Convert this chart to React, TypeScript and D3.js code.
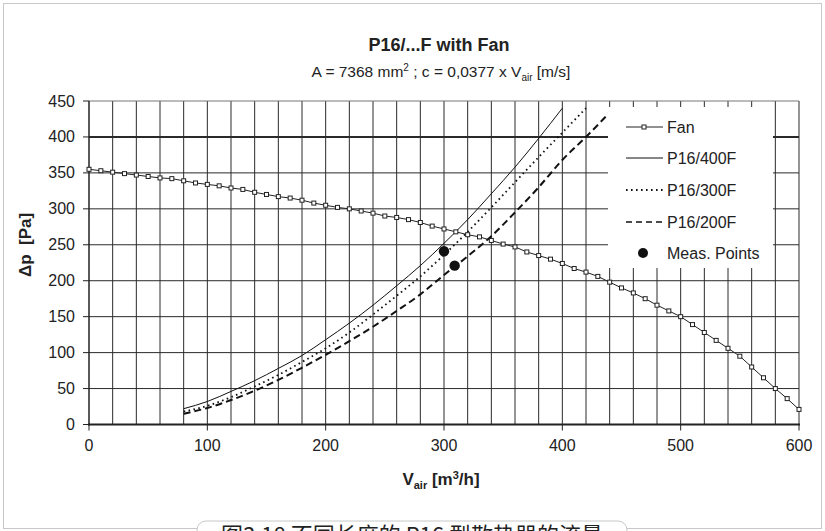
import React from "react";
import * as d3 from "d3";

const fanFlow = d3.range(0, 601, 10);
const fanDp = [355, 353, 351, 349, 347, 345, 343, 342, 339, 336, 334, 332, 329, 327, 323, 320, 317, 315, 312, 308, 305, 302, 300, 297, 294, 290, 288, 285, 281, 276, 272, 268, 264, 261, 256, 251, 247, 240, 235, 230, 224, 217, 212, 206, 198, 190, 183, 175, 166, 158, 150, 139, 128, 117, 106, 95, 80, 65, 50, 36, 21];

const p400Flow = [80, 100, 120, 140, 160, 180, 200, 220, 240, 260, 280, 300, 320, 340, 360, 380, 400];
const p400Dp = [22, 32, 46, 61, 78, 96, 118, 141, 166, 193, 221, 252, 285, 321, 358, 398, 440];

const p300Flow = [80, 100, 120, 140, 160, 180, 200, 220, 240, 260, 280, 300, 320, 340, 360, 380, 400, 420];
const p300Dp = [18, 26, 38, 53, 69, 87, 106, 128, 153, 179, 206, 236, 268, 302, 337, 372, 406, 440];

const p200Flow = [80, 100, 120, 140, 160, 180, 200, 220, 240, 260, 280, 300, 320, 340, 360, 380, 400, 420, 440];
const p200Dp = [15, 23, 34, 47, 62, 79, 97, 116, 136, 158, 181, 208, 234, 262, 295, 330, 368, 400, 434];

const measFlow = [300, 309];
const measDp = [241, 221];

const xTicks = [0, 100, 200, 300, 400, 500, 600];
const yTicks = [0, 50, 100, 150, 200, 250, 300, 350, 400, 450];

const legendLabels = ["Fan", "P16/400F", "P16/300F", "P16/200F", "Meas. Points"];

const W = 825;
const H = 531;
const FONT = "Arial, 'Liberation Sans', Helvetica, sans-serif";

export default function App() {
  const x = d3.scaleLinear().domain([0, 600]).range([89, 799]);
  const y = d3.scaleLinear().domain([0, 450]).range([424.5, 101]);

  const fanPts: [number, number][] = fanFlow.map((v, i) => [v, fanDp[i]]);
  const lineStraight = d3.line<[number, number]>().x((d) => x(d[0])).y((d) => y(d[1]));
  const lineSmooth = d3
    .line<[number, number]>()
    .x((d) => x(d[0]))
    .y((d) => y(d[1]))
    .curve(d3.curveMonotoneX);

  const s400 = p400Flow.map((v, i) => [v, p400Dp[i]] as [number, number]);
  const s300 = p300Flow.map((v, i) => [v, p300Dp[i]] as [number, number]);
  const s200 = p200Flow.map((v, i) => [v, p200Dp[i]] as [number, number]);

  const vGrid = d3.range(20, 601, 20);
  const hGrid = yTicks.filter((t) => t > 0);

  const legX0 = 608;
  const legY0 = 107;
  const legRowY = [127, 158, 190, 222, 253];

  return (
    <div style={{ position: "fixed", left: 0, top: 0 }}>
      <svg width={W} height={H} viewBox={`0 0 ${W} ${H}`} style={{ display: "block", background: "#fff" }}>
        <rect x={0} y={0} width={W} height={H} fill="#fff" />
        {/* outer chart border */}
        <rect x={3.5} y={3.5} width={818} height={525} fill="none" stroke="#c8c8c8" strokeWidth={1} />

        {/* title */}
        <text x={439} y={51} textAnchor="middle" fontFamily={FONT} fontWeight="bold" fontSize={18} fill="#222">
          P16/...F with Fan
        </text>
        <text x={441} y={77} textAnchor="middle" fontFamily={FONT} fontSize={15.5} fill="#222">
          <tspan>A = 7368 mm</tspan>
          <tspan dy={-6} fontSize={10}>2</tspan>
          <tspan dy={6}> ; c = 0,0377 x V</tspan>
          <tspan dy={4} fontSize={10}>air</tspan>
          <tspan dy={-4}> [m/s]</tspan>
        </text>

        {/* grid */}
        {vGrid.map((v) => (
          <line key={"v" + v} x1={x(v)} x2={x(v)} y1={y(450)} y2={y(0)} stroke="#2a2a2a" strokeWidth={1} />
        ))}
        {hGrid.map((t) => (
          <line
            key={"h" + t}
            x1={x(0)}
            x2={x(600)}
            y1={y(t)}
            y2={y(t)}
            stroke={t === 450 ? "#777" : "#2a2a2a"}
            strokeWidth={t === 400 ? 2 : 1}
          />
        ))}

        {/* axes */}
        <line x1={x(0)} x2={x(0)} y1={y(450)} y2={y(0) + 1} stroke="#222" strokeWidth={1.5} />
        <line x1={x(0) - 1} x2={x(600) + 1} y1={y(0)} y2={y(0)} stroke="#222" strokeWidth={2} />
        {yTicks.map((t) => (
          <g key={"yt" + t}>
            <line x1={x(0) - 6} x2={x(0)} y1={y(t)} y2={y(t)} stroke="#222" strokeWidth={1} />
            <text x={75} y={y(t) + 5.5} textAnchor="end" fontFamily={FONT} fontSize={16} fill="#222">
              {t}
            </text>
          </g>
        ))}
        {xTicks.map((t) => (
          <g key={"xt" + t}>
            <line x1={x(t)} x2={x(t)} y1={y(0)} y2={y(0) + 6} stroke="#222" strokeWidth={1} />
            <text x={x(t)} y={451} textAnchor="middle" fontFamily={FONT} fontSize={16} fill="#222">
              {t}
            </text>
          </g>
        ))}

        {/* axis titles */}
        <text
          transform={`translate(31,245) rotate(-90)`}
          textAnchor="middle"
          fontFamily={FONT}
          fontWeight="bold"
          fontSize={17}
          fill="#222"
          style={{ whiteSpace: "pre" }}
        >
          {"Δp  [Pa]"}
        </text>
        <text x={441} y={485} textAnchor="middle" fontFamily={FONT} fontWeight="bold" fontSize={17} fill="#222">
          <tspan>V</tspan>
          <tspan dy={4} fontSize={11}>air</tspan>
          <tspan dy={-4}> [m</tspan>
          <tspan dy={-6} fontSize={11}>3</tspan>
          <tspan dy={6}>/h]</tspan>
        </text>

        {/* series */}
        <path d={lineSmooth(s400) || ""} fill="none" stroke="#111" strokeWidth={1} />
        <path d={lineSmooth(s300) || ""} fill="none" stroke="#111" strokeWidth={1.8} strokeDasharray="1.6,3.4" />
        <path d={lineSmooth(s200) || ""} fill="none" stroke="#111" strokeWidth={2} strokeDasharray="7,4" />
        <path d={lineStraight(fanPts) || ""} fill="none" stroke="#222" strokeWidth={1} />
        {fanPts.map((d, i) => (
          <rect key={"fm" + i} x={x(d[0]) - 2} y={y(d[1]) - 2} width={4} height={4} fill="#fff" stroke="#222" strokeWidth={1} />
        ))}
        {measFlow.map((v, i) => (
          <circle key={"m" + i} cx={x(v)} cy={y(measDp[i])} r={5.2} fill="#111" />
        ))}

        {/* legend */}
        <rect x={legX0} y={legY0} width={165} height={161} fill="#fff" />
        {legendLabels.map((lab, i) => {
          const cy = legRowY[i];
          return (
            <g key={"lg" + i}>
              {i === 0 && (
                <>
                  <line x1={626} x2={663} y1={cy} y2={cy} stroke="#222" strokeWidth={1} />
                  <rect x={642} y={cy - 2} width={4} height={4} fill="#fff" stroke="#222" strokeWidth={1} />
                </>
              )}
              {i === 1 && <line x1={626} x2={663} y1={cy} y2={cy} stroke="#111" strokeWidth={1} />}
              {i === 2 && (
                <line x1={626} x2={663} y1={cy} y2={cy} stroke="#111" strokeWidth={1.8} strokeDasharray="1.6,3.4" />
              )}
              {i === 3 && <line x1={626} x2={663} y1={cy} y2={cy} stroke="#111" strokeWidth={1.5} strokeDasharray="6,4" />}
              {i === 4 && <circle cx={643} cy={cy} r={5} fill="#111" />}
              <text x={667} y={cy + 5.5} fontFamily={FONT} fontSize={16} fill="#222">
                {lab}
              </text>
            </g>
          );
        })}

        {/* caption */}
        <rect x={197} y={521} width={430} height={40} rx={9} fill="#fff" stroke="#c8c8c8" strokeWidth={1} />
        <text x={412} y={543} textAnchor="middle" fontFamily="'Noto Sans CJK SC', sans-serif" fontSize={22} fill="#222">
          图3.18 不同长度的 P16 型散热器的流量
        </text>
      </svg>
    </div>
  );
}
